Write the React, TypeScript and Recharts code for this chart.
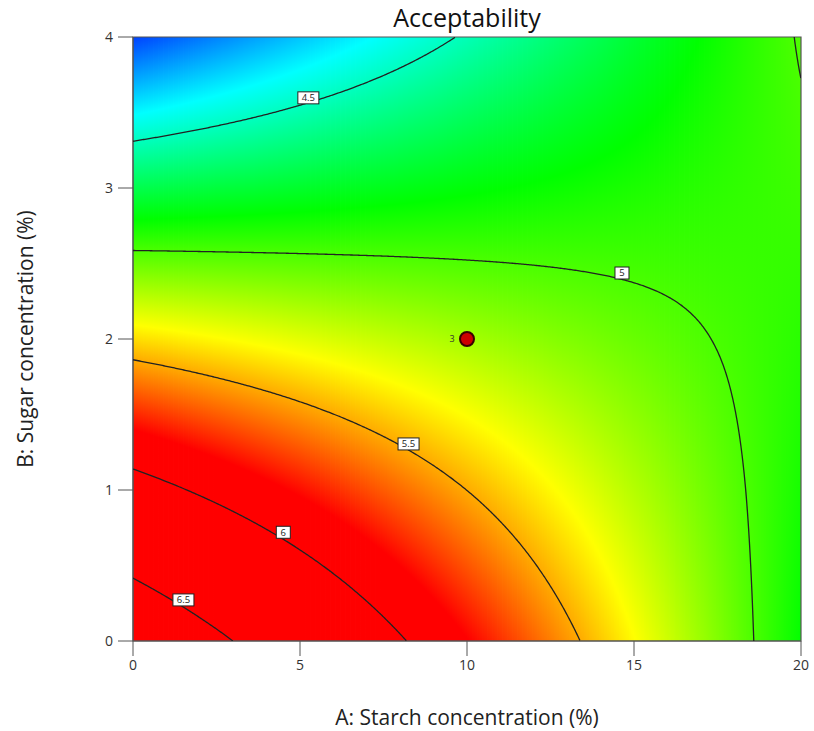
import React from 'react';
import { ComposedChart, XAxis, YAxis, Scatter, ReferenceArea, Label } from 'recharts';

// ---- data ----
const starchTicks = [0, 5, 10, 15, 20];
const sugarTicks = [0, 1, 2, 3, 4];

// Acceptability estimated at grid nodes (starch 0..20 step 5) for each sugar level
const gridStarch = [0, 5, 10, 15, 20];
const gridSugar = [0, 1, 2, 3, 4];
const acceptAtSugar0 = [6.788, 6.307, 5.826, 5.345, 4.864];
const acceptAtSugar1 = [6.096, 5.798, 5.499, 5.2, 4.901];
const acceptAtSugar2 = [5.405, 5.288, 5.171, 5.054, 4.937];
const acceptAtSugar3 = [4.714, 4.779, 4.844, 4.909, 4.974];
const acceptAtSugar4 = [4.023, 4.27, 4.517, 4.764, 5.01];
const acceptRows = [acceptAtSugar0, acceptAtSugar1, acceptAtSugar2, acceptAtSugar3, acceptAtSugar4];

const contourLevels = [4.5, 5, 5.5, 6, 6.5];
const contourLabels = [
  { a: 5.25, b: 3.597, text: '4.5' },
  { a: 14.64, b: 2.437, text: '5' },
  { a: 8.25, b: 1.305, text: '5.5' },
  { a: 4.5, b: 0.72, text: '6' },
  { a: 1.51, b: 0.272, text: '6.5' },
];
const designPoints = [{ a: 10, b: 2, label: '3' }];

const colorStopValues = [3.9, 4.38, 4.86, 5.34, 5.82];
const colorStopColors = ['#0000ff', '#00ffff', '#00ff00', '#ffff00', '#ff0000'];

const FONT = "'Open Sans', 'Noto Sans', sans-serif";

// ---- helpers ----
function cellIndex(arr: number[], v: number): number {
  for (let i = 0; i < arr.length - 2; i++) if (v < arr[i + 1]) return i;
  return arr.length - 2;
}
function surface(a: number, b: number): number {
  const i = cellIndex(gridStarch, a);
  const j = cellIndex(gridSugar, b);
  const tx = (a - gridStarch[i]) / (gridStarch[i + 1] - gridStarch[i]);
  const ty = (b - gridSugar[j]) / (gridSugar[j + 1] - gridSugar[j]);
  const v00 = acceptRows[j][i], v10 = acceptRows[j][i + 1];
  const v01 = acceptRows[j + 1][i], v11 = acceptRows[j + 1][i + 1];
  return v00 * (1 - tx) * (1 - ty) + v10 * tx * (1 - ty) + v01 * (1 - tx) * ty + v11 * tx * ty;
}
function hexRgb(h: string): number[] {
  return [parseInt(h.slice(1, 3), 16), parseInt(h.slice(3, 5), 16), parseInt(h.slice(5, 7), 16)];
}
function colorAt(v: number): string {
  const n = colorStopValues.length;
  if (v <= colorStopValues[0]) return colorStopColors[0];
  if (v >= colorStopValues[n - 1]) return colorStopColors[n - 1];
  let s = 0;
  while (s < n - 2 && v > colorStopValues[s + 1]) s++;
  const t = (v - colorStopValues[s]) / (colorStopValues[s + 1] - colorStopValues[s]);
  const c0 = hexRgb(colorStopColors[s]);
  const c1 = hexRgb(colorStopColors[s + 1]);
  const c = c0.map((x, k) => Math.round(x + (c1[k] - x) * t));
  return `rgb(${c[0]},${c[1]},${c[2]})`;
}

const aMin = starchTicks[0], aMax = starchTicks[starchTicks.length - 1];
const bMin = sugarTicks[0], bMax = sugarTicks[sugarTicks.length - 1];

// vertical strips with exact piecewise-linear gradients
const STRIP = 0.05;
const nStrips = Math.round((aMax - aMin) / STRIP);
const strips = Array.from({ length: nStrips }, (_, k) => {
  const a = aMin + (k + 0.5) * STRIP;
  const bs: number[] = [...gridSugar];
  for (let j = 0; j < gridSugar.length - 1; j++) {
    const f0 = surface(a, gridSugar[j]);
    const f1 = surface(a, gridSugar[j + 1]);
    colorStopValues.forEach((s) => {
      if ((f0 - s) * (f1 - s) < 0) {
        bs.push(gridSugar[j] + ((s - f0) / (f1 - f0)) * (gridSugar[j + 1] - gridSugar[j]));
      }
    });
  }
  bs.sort((x, y) => y - x);
  return {
    id: `hs${k}`,
    x1: aMin + k * STRIP,
    x2: Math.min(aMax, aMin + (k + 1) * STRIP + 0.025),
    stops: bs.map((b) => ({ offset: (bMax - b) / (bMax - bMin), color: colorAt(surface(a, b)) })),
  };
});

// contour paths
function contourPaths(level: number) {
  const pts: { a: number; b: number }[] = [];
  const NA = 2000;
  for (let k = 0; k <= NA; k++) {
    const a = aMin + ((aMax - aMin) * k) / NA;
    for (let j = 0; j < gridSugar.length - 1; j++) {
      const f0 = surface(a, gridSugar[j]) - level;
      const f1 = surface(a, gridSugar[j + 1]) - level;
      if (f0 * f1 <= 0 && f0 !== f1) {
        pts.push({ a, b: gridSugar[j] + (-f0 / (f1 - f0)) * (gridSugar[j + 1] - gridSugar[j]) });
      }
    }
  }
  const NB = 2000;
  for (let k = 0; k <= NB; k++) {
    const b = bMin + ((bMax - bMin) * k) / NB;
    for (let i = 0; i < gridStarch.length - 1; i++) {
      const f0 = surface(gridStarch[i], b) - level;
      const f1 = surface(gridStarch[i + 1], b) - level;
      if (f0 * f1 <= 0 && f0 !== f1) {
        pts.push({ a: gridStarch[i] + (-f0 / (f1 - f0)) * (gridStarch[i + 1] - gridStarch[i]), b });
      }
    }
  }
  pts.sort((p, q) => p.a - q.a || q.b - p.b);
  const paths: { a: number; b: number }[][] = [];
  let cur: { a: number; b: number }[] = [];
  let last: { a: number; b: number } | null = null;
  pts.forEach((p) => {
    if (last) {
      const jump = Math.abs(p.a - last.a) / (aMax - aMin) + Math.abs(p.b - last.b) / (bMax - bMin);
      if (jump > 0.03) {
        if (cur.length > 1) paths.push(cur);
        cur = [p];
        last = p;
        return;
      }
      const d = Math.hypot((p.a - last.a) * 33.4, (p.b - last.b) * 151);
      if (d < 1.2) return;
    }
    cur.push(p);
    last = p;
  });
  if (cur.length > 1) paths.push(cur);
  return paths;
}
const contours = contourLevels.flatMap((lv) => contourPaths(lv).map((p, i) => ({ key: `c${lv}-${i}`, data: p })));

const LabelBox = (props: any) => {
  const { cx, cy, payload } = props;
  const t = payload.text as string;
  const w = 10.5 + 3.5 * t.length;
  const h = 12;
  return (
    <g>
      <rect x={cx - w / 2} y={cy - h / 2} width={w} height={h} fill="#ffffff" stroke="#222" strokeWidth={1} />
      <text x={cx} y={cy + 3.3} textAnchor="middle" fontSize={9.5} fontFamily={FONT} fill="#222">
        {t}
      </text>
    </g>
  );
};

const DesignDot = (props: any) => {
  const { cx, cy, payload } = props;
  return (
    <g>
      <circle cx={cx} cy={cy} r={7} fill="#cc0000" stroke="#3a0000" strokeWidth={2} />
      <text x={cx - 15} y={cy + 3} textAnchor="middle" fontSize={9} fontFamily={FONT} fill="#333">
        {payload.label}
      </text>
    </g>
  );
};

const NoDot = () => <g />;

export default function App() {
  return (
    <div style={{ position: 'absolute', left: 0, top: 0, width: 814, height: 731, background: '#ffffff' }}>
      <div
        style={{
          position: 'absolute',
          left: 133,
          top: 5,
          width: 668,
          textAlign: 'center',
          fontFamily: FONT,
          fontSize: 25,
          lineHeight: '25px',
          color: '#111',
        }}
      >
        Acceptability
      </div>
      <ComposedChart width={814} height={731} margin={{ top: 37, right: 13, bottom: 0, left: 0 }}>
        <defs>
          {strips.map((s) => (
            <linearGradient key={s.id} id={s.id} x1="0" y1="0" x2="0" y2="1">
              {s.stops.map((st, i) => (
                <stop key={i} offset={st.offset} stopColor={st.color} />
              ))}
            </linearGradient>
          ))}
        </defs>
        <XAxis
          type="number"
          dataKey="a"
          domain={[aMin, aMax]}
          ticks={starchTicks}
          allowDataOverflow
          height={90}
          tickSize={15}
          tickMargin={4}
          stroke="#555"
          tick={{ fontSize: 14, fill: '#333', fontFamily: FONT }}
        >
          <Label
            value="A: Starch concentration (%)"
            position="insideBottom"
            offset={6}
            style={{ fontSize: 21, fontFamily: FONT, fill: '#222' }}
          />
        </XAxis>
        <YAxis
          type="number"
          dataKey="b"
          domain={[bMin, bMax]}
          ticks={sugarTicks}
          allowDataOverflow
          width={133}
          tickSize={15}
          tickMargin={5}
          stroke="#555"
          tick={{ fontSize: 14, fill: '#333', fontFamily: FONT }}
        >
          <Label
            content={(p: any) => {
              const vb = p.viewBox || { x: 0, y: 37, width: 133, height: 604 };
              const cx = vb.x + 25;
              const cy = vb.y + vb.height / 2;
              return (
                <text
                  x={cx}
                  y={cy}
                  transform={`rotate(-90 ${cx} ${cy})`}
                  textAnchor="middle"
                  dominantBaseline="central"
                  fontSize={21}
                  fontFamily={FONT}
                  fill="#222"
                >
                  B: Sugar concentration (%)
                </text>
              );
            }}
          />
        </YAxis>
        {strips.map((s) => (
          <ReferenceArea
            key={s.id}
            x1={s.x1}
            x2={s.x2}
            y1={bMin}
            y2={bMax}
            fill={`url(#${s.id})`}
            fillOpacity={1}
            stroke="none"
          />
        ))}
        {contours.map((c) => (
          <Scatter
            key={c.key}
            data={c.data}
            line={{ stroke: '#222', strokeWidth: 1.3 }}
            shape={NoDot}
            isAnimationActive={false}
          />
        ))}
        <Scatter data={contourLabels} shape={LabelBox} isAnimationActive={false} />
        <Scatter data={designPoints} shape={DesignDot} isAnimationActive={false} />
        <ReferenceArea x1={aMin} x2={aMax} y1={bMin} y2={bMax} fill="none" stroke="#555" strokeWidth={1.2} />
      </ComposedChart>
    </div>
  );
}
